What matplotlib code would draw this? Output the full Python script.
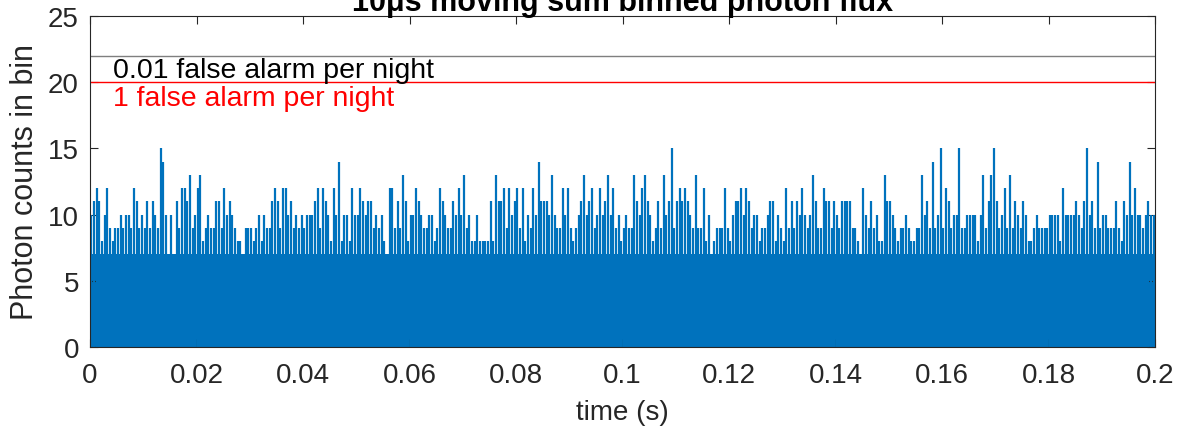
import numpy as np
import matplotlib.pyplot as plt

plt.rcParams['font.family'] = ['Liberation Sans', 'DejaVu Sans']

# highest count in each 0.5 ms slice of the 10us moving sum
seg_000_025 = [10, 11, 12, 11, 8, 10, 12, 9, 8, 9, 9, 10, 9, 10, 10, 9, 12, 11, 9, 10,
               9, 11, 9, 11, 10, 9, 15, 14, 10, 7, 10, 7, 11, 9, 12, 12, 11, 13, 9, 10,
               12, 13, 8, 9, 10, 9, 9, 11, 11, 9]
seg_025_050 = [12, 10, 11, 10, 9, 8, 8, 7, 9, 9, 9, 8, 9, 10, 8, 10, 9, 9, 11, 12,
               11, 9, 12, 12, 10, 11, 9, 10, 9, 10, 9, 10, 10, 10, 11, 12, 9, 12, 11, 10,
               8, 12, 10, 14, 8, 10, 10, 8, 12, 10]
seg_050_075 = [10, 12, 11, 10, 11, 11, 9, 10, 9, 10, 8, 7, 12, 12, 9, 11, 9, 13, 11, 8,
               10, 10, 12, 11, 10, 9, 9, 10, 10, 8, 9, 12, 11, 10, 9, 9, 11, 10, 12, 10,
               13, 9, 10, 8, 8, 10, 8, 8, 8, 8]
seg_075_100 = [11, 8, 13, 11, 11, 12, 9, 12, 10, 11, 12, 9, 12, 8, 10, 9, 12, 10, 14, 11,
               11, 11, 10, 13, 10, 9, 9, 12, 10, 12, 9, 8, 9, 10, 11, 13, 10, 11, 12, 9,
               10, 12, 10, 11, 13, 10, 12, 9, 10, 8]
seg_100_125 = [9, 10, 9, 9, 13, 11, 10, 12, 13, 11, 10, 8, 9, 11, 9, 13, 10, 11, 15, 9,
               11, 12, 11, 12, 11, 10, 9, 13, 9, 9, 12, 8, 10, 7, 8, 9, 9, 9, 12, 9,
               8, 10, 11, 11, 12, 10, 12, 11, 9, 10]
seg_125_150 = [10, 8, 9, 9, 10, 11, 11, 8, 10, 9, 8, 12, 9, 11, 9, 11, 10, 12, 10, 9,
               10, 13, 11, 9, 9, 12, 11, 11, 9, 11, 10, 9, 11, 11, 11, 11, 9, 9, 8, 7,
               12, 10, 9, 11, 9, 10, 8, 8, 13, 11]
seg_150_175 = [11, 10, 9, 8, 9, 9, 10, 9, 8, 8, 9, 9, 13, 10, 11, 9, 14, 9, 10, 15,
               9, 12, 11, 9, 10, 10, 15, 9, 9, 10, 10, 10, 10, 8, 10, 13, 9, 11, 13, 15,
               11, 9, 10, 12, 9, 13, 9, 11, 10, 9]
seg_175_200 = [11, 10, 8, 8, 9, 10, 9, 9, 9, 9, 10, 10, 10, 10, 8, 12, 10, 10, 10, 10,
               11, 10, 9, 11, 15, 10, 11, 9, 14, 9, 10, 10, 9, 9, 9, 11, 9, 8, 11, 10,
               14, 10, 12, 10, 10, 9, 10, 11, 10, 10]

slice_width = 0.0005          # s
dense_cap = 7                 # below this the trace is drawn as a solid band
threshold_counts = [22, 20]
threshold_labels = ['0.01 false alarm per night', '1 false alarm per night']
threshold_colors = ['#7f7f7f', '#ff0000']
label_colors = ['#000000', '#ff0000']
label_counts = [20.9, 18.8]

peak_counts = (seg_000_025 + seg_025_050 + seg_050_075 + seg_075_100
               + seg_100_125 + seg_125_150 + seg_150_175 + seg_175_200)
peak_counts = np.array(peak_counts)
times = (np.arange(len(peak_counts)) + 0.5) * slice_width

fig = plt.figure(figsize=(11.91, 4.39), dpi=100)
ax = fig.add_axes([90 / 1191, 1 - 348 / 439, 1065 / 1191, 331 / 439])

blue = '#0072BD'
edges = np.arange(len(peak_counts) + 1) * slice_width
band = np.minimum(peak_counts, dense_cap)
ax.stairs(band, edges, baseline=0, fill=True, color=blue, lw=0)
ax.vlines(times, 0, peak_counts, color=blue, lw=1.6)

for c, col in zip(threshold_counts, threshold_colors):
    ax.axhline(c, color=col, lw=1.0)
for c, txt, col in zip(label_counts, threshold_labels, label_colors):
    ax.text(0.0043, c, txt, color=col, fontsize=20.5, va='center', ha='left')

ax.set_xlim(0, 0.2)
ax.set_ylim(0, 25)
ax.set_xticks(np.arange(0, 0.2001, 0.02))
ax.set_xticklabels(['0', '0.02', '0.04', '0.06', '0.08', '0.1', '0.12', '0.14',
                    '0.16', '0.18', '0.2'])
ax.set_yticks([0, 5, 10, 15, 20, 25])
ax.tick_params(direction='in', length=6, width=0.8, colors='#262626',
               labelsize=20, top=True, right=True)
ax.tick_params(axis='x', pad=11)
ax.tick_params(axis='y', pad=8)
for s in ax.spines.values():
    s.set_color('#262626')
    s.set_linewidth(0.8)

ax.set_xlabel('time (s)', fontsize=20, color='#262626', labelpad=8)
ax.set_ylabel('Photon counts in bin', fontsize=22, color='#262626', labelpad=6)
ax.set_title('10μs moving sum binned photon flux', fontsize=22, fontweight='bold',
             pad=4)

fig.savefig('out.png', dpi=100)
